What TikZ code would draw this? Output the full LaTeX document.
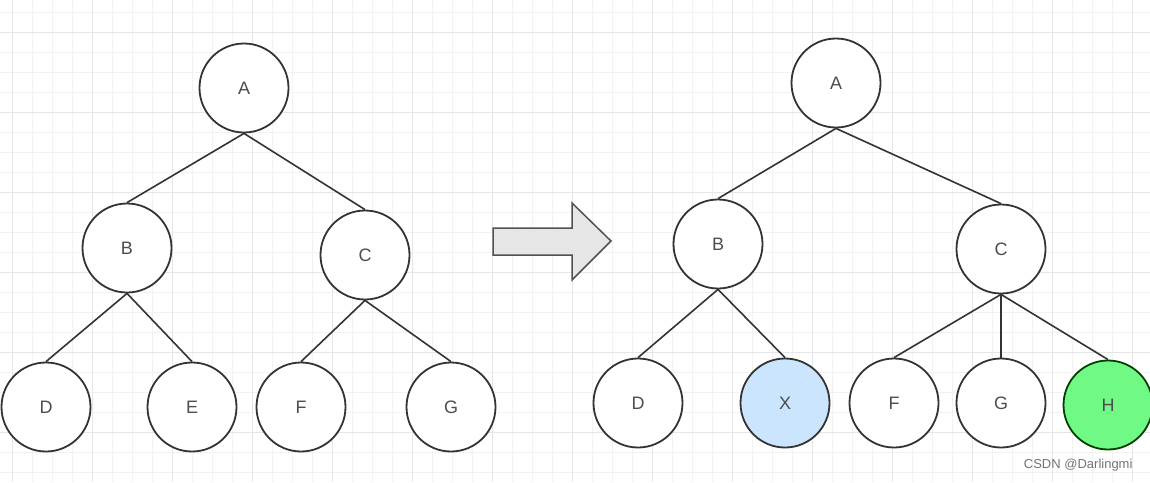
\documentclass[tikz,border=0pt]{standalone}
\usepackage{fontspec}
\setmainfont{Liberation Sans}
\definecolor{txt}{HTML}{4D4D4D}
\definecolor{edge}{HTML}{333333}
\definecolor{minorg}{HTML}{F2F2F2}
\definecolor{majorg}{HTML}{E6E6E6}
\definecolor{xblue}{HTML}{CCE5FF}
\definecolor{hgreen}{HTML}{70FA85}
\definecolor{arrowfill}{HTML}{E6E6E6}
\begin{document}
\begin{tikzpicture}[x=1pt,y=-1pt,
  tn/.style={circle,draw=edge,line width=1.8pt,fill=white,minimum size=89pt,inner sep=0pt,
    font=\fontsize{18}{20}\selectfont,text=txt},
  ln/.style={draw=edge,line width=1.6pt},
  minorline/.style={draw=minorg,line width=0.8pt},
  majorline/.style={draw=majorg,line width=1pt}]
\useasboundingbox (0,0) rectangle (1150,482);
\fill[white] (0,0) rectangle (1150,482);
% grid
\foreach \x in {12,32,...,1152} \draw[minorline] (\x,0) -- (\x,482);
\foreach \y in {12,32,...,482} \draw[minorline] (0,\y) -- (1150,\y);
\foreach \x in {12,92,...,1152} \draw[majorline] (\x,0) -- (\x,482);
\foreach \y in {32,112,...,482} \draw[majorline] (0,\y) -- (1150,\y);
% left tree
\node[tn] (lA) at (244,88) {A};
\node[tn] (lB) at (127,248) {B};
\node[tn] (lC) at (365,255) {C};
\node[tn] (lD) at (46,407) {D};
\node[tn] (lE) at (192,407) {E};
\node[tn] (lF) at (301,407) {F};
\node[tn] (lG) at (451,407) {G};
\draw[ln] (lA.south) -- (lB.north);
\draw[ln] (lA.south) -- (lC.north);
\draw[ln] (lB.south) -- (lD.north);
\draw[ln] (lB.south) -- (lE.north);
\draw[ln] (lC.south) -- (lF.north);
\draw[ln] (lC.south) -- (lG.north);
% arrow
\draw[draw=edge!85,line width=1.5pt,fill=arrowfill,line join=miter]
  (493,228) -- (572,228) -- (572,203) -- (611,241) -- (572,280) -- (572,255) -- (493,255) -- cycle;
% right tree
\node[tn] (rA) at (836,83) {A};
\node[tn] (rB) at (718,244) {B};
\node[tn] (rC) at (1001,249) {C};
\node[tn] (rD) at (638,403) {D};
\node[tn,fill=xblue] (rX) at (785,403) {X};
\node[tn] (rF) at (894,403) {F};
\node[tn] (rG) at (1001,403) {G};
\node[tn,fill=hgreen,draw=black!75!green] (rH) at (1108,405) {H};
\draw[ln] (rA.south) -- (rB.north);
\draw[ln] (rA.south) -- (rC.north);
\draw[ln] (rB.south) -- (rD.north);
\draw[ln] (rB.south) -- (rX.north);
\draw[ln] (rC.south) -- (rF.north);
\draw[ln] (rC.south) -- (rG.north);
\draw[ln] (rC.south) -- (rH.north);
% watermark
\node[text=black!55,font=\fontsize{13}{15}\selectfont,anchor=east] (wm) at (1136,465) {CSDN @Darlingmi};
\end{tikzpicture}
\end{document}
